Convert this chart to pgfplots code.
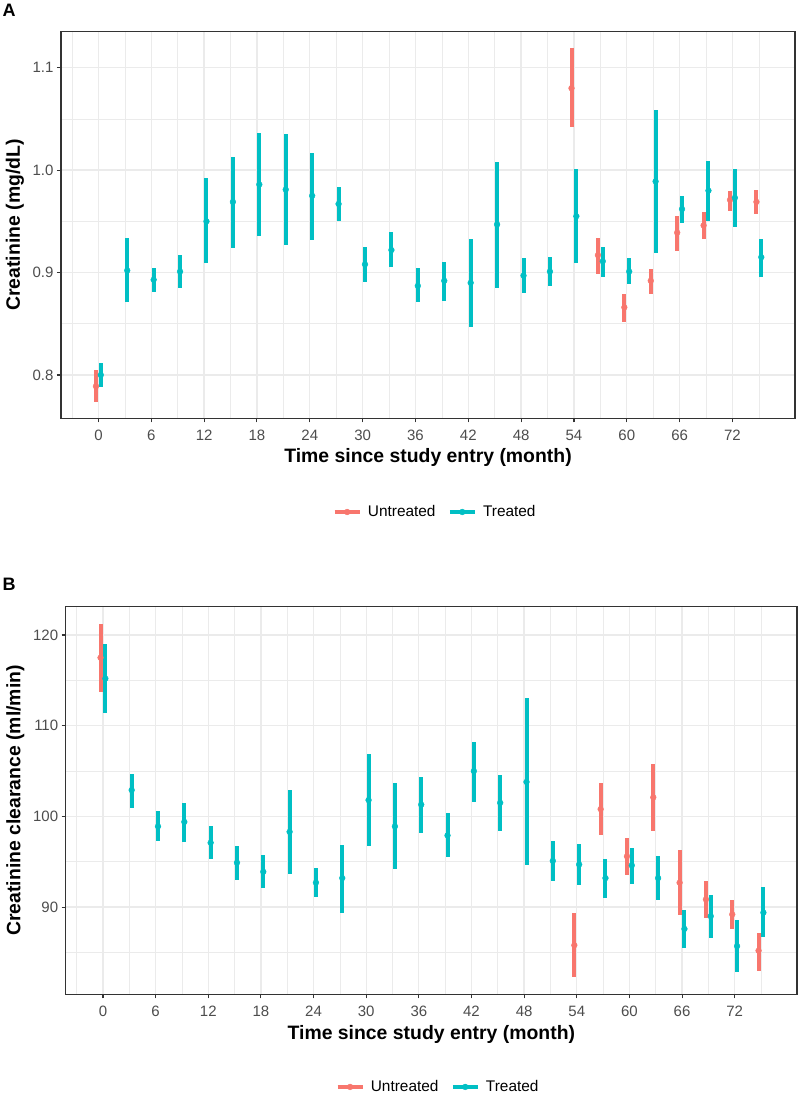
\documentclass[border=0pt]{standalone}
\usepackage{pgfplots}
\pgfplotsset{compat=1.18}
\usepackage{pgfplotstable}
\usepackage{fontspec}
\setmainfont{Liberation Sans}
\definecolor{cU}{HTML}{F8766D}
\definecolor{cT}{HTML}{00BFC4}
\definecolor{gridc}{HTML}{EBEBEB}
\definecolor{bordc}{HTML}{333333}
\definecolor{tickc}{HTML}{4D4D4D}

% Panel A: creatinine
\pgfplotstableread{
x y lo hi
0 0.789 0.774 0.805
54 1.080 1.042 1.119
57 0.917 0.899 0.934
60 0.866 0.852 0.879
63 0.892 0.879 0.903
66 0.939 0.921 0.955
69 0.946 0.933 0.959
72 0.971 0.960 0.980
75 0.969 0.957 0.981
}\dAU
\pgfplotstableread{
x y lo hi
0 0.800 0.788 0.812
3 0.902 0.871 0.934
6 0.893 0.881 0.904
9 0.901 0.885 0.917
12 0.950 0.909 0.992
15 0.969 0.924 1.013
18 0.986 0.936 1.036
21 0.981 0.927 1.035
24 0.975 0.932 1.017
27 0.967 0.950 0.984
30 0.908 0.891 0.925
33 0.922 0.905 0.940
36 0.887 0.871 0.904
39 0.892 0.872 0.910
42 0.890 0.847 0.933
45 0.947 0.885 1.008
48 0.897 0.880 0.914
51 0.901 0.887 0.915
54 0.955 0.909 1.001
57 0.911 0.896 0.925
60 0.901 0.889 0.914
63 0.989 0.919 1.059
66 0.962 0.948 0.975
69 0.980 0.950 1.009
72 0.973 0.944 1.001
75 0.915 0.896 0.933
}\dAT
% Panel B: creatinine clearance
\pgfplotstableread{
x y lo hi
0 117.5 113.75 121.2
54 85.8 82.3 89.4
57 100.8 97.9 103.7
60 95.6 93.5 97.6
63 102.1 98.4 105.8
66 92.7 89.1 96.3
69 90.85 88.75 92.9
72 89.2 87.6 90.8
75 85.2 83.0 87.2
}\dBU
\pgfplotstableread{
x y lo hi
0 115.2 111.4 119.0
3 102.9 100.9 104.7
6 98.9 97.3 100.6
9 99.4 97.2 101.5
12 97.1 95.3 98.9
15 94.9 93.0 96.7
18 93.9 92.1 95.7
21 98.3 93.7 102.9
24 92.7 91.1 94.3
27 93.2 89.3 96.9
30 101.8 96.7 106.9
33 98.9 94.2 103.7
36 101.3 98.2 104.4
39 97.9 95.5 100.4
42 105.0 101.6 108.2
45 101.5 98.4 104.6
48 103.8 94.6 113.0
51 95.1 92.9 97.3
54 94.7 92.4 97.0
57 93.2 91.0 95.3
60 94.6 92.5 96.5
63 93.2 90.8 95.6
66 87.6 85.5 89.7
69 89.0 86.6 91.3
72 85.7 82.8 88.6
75 89.4 86.7 92.2
}\dBT

\pgfplotsset{
  panel/.style={
    scale only axis, anchor=south west,
    xmin=-4.25, xmax=79.1,
    xtick={0,6,...,72}, xticklabels={0,6,12,18,24,30,36,42,48,54,60,66,72},
    minor xtick={-3,3,9,...,75},
    grid=both,
    major grid style={gridc, line width=1.3pt},
    minor grid style={gridc, line width=0.65pt},
    axis line style={bordc, line width=1.1pt},
    tick align=outside, tick pos=left,
    major tick length=4pt, minor tick length=0pt,
    tick style={bordc, line width=1.1pt},
    tick label style={font=\fontsize{15}{18}\selectfont, text=tickc},
    xticklabel style={anchor=base, yshift=-18.4pt},
    label style={font=\fontsize{19.4}{22}\selectfont\bfseries},
    xlabel={Time since study entry (month)},
    xlabel style={at={(axis description cs:0.5,0)}, anchor=base, yshift=-44.7pt},
    legend columns=2,
    legend style={draw=none, fill=none, font=\fontsize{15.4}{18}\selectfont, anchor=center,
      /tikz/every odd column/.append style={column sep=4pt},
      /tikz/every even column/.append style={column sep=10pt}},
  },
  untr/.style={cU, only marks, mark=*, mark size=2.9pt, mark options={draw=none, fill=cU},
    legend image code/.code={\draw[line width=4.5pt, cU] (0pt,0pt) -- (25pt,0pt); \fill[cU] (12.5pt,0pt) circle (2.9pt);},
    error bars/.cd, y dir=both, y explicit, error mark=none, error bar style={line width=4pt, cU}},
  trt/.style={cT, only marks, mark=*, mark size=2.9pt, mark options={draw=none, fill=cT},
    legend image code/.code={\draw[line width=4.5pt, cT] (0pt,0pt) -- (25pt,0pt); \fill[cT] (12.5pt,0pt) circle (2.9pt);},
    error bars/.cd, y dir=both, y explicit, error mark=none, error bar style={line width=4pt, cT}},
}

\begin{document}
\begin{tikzpicture}
\fill[white] (0pt,0pt) rectangle (800pt,1095pt);
\path[use as bounding box] (0pt,0pt) rectangle (800pt,1095pt);

\node[anchor=base west, inner sep=0pt, font=\fontsize{18}{20}\selectfont\bfseries] at (2.5pt,1078.5pt) {A};
\node[anchor=base west, inner sep=0pt, font=\fontsize{18}{20}\selectfont\bfseries] at (2.5pt,504.5pt) {B};

\begin{axis}[panel, at={(61pt,676.7pt)}, width=734pt, height=386.6pt,
  ymin=0.7577, ymax=1.1352,
  ytick={0.8,0.9,1.0,1.1}, yticklabels={0.8,0.9,1.0,1.1},
  minor ytick={0.75,0.85,0.95,1.05},
  ylabel={Creatinine (mg/dL)},
  ylabel style={at={(axis description cs:-0.0627,0.5)}, anchor=center},
  legend style={at={(0.5095,-0.2424)}}]
\addplot[untr] table[x expr=\thisrow{x}-0.28, y=y, y error plus expr=\thisrow{hi}-\thisrow{y}, y error minus expr=\thisrow{y}-\thisrow{lo}] {\dAU};
\addlegendentry{Untreated}
\addplot[trt] table[x expr=\thisrow{x}+0.27, y=y, y error plus expr=\thisrow{hi}-\thisrow{y}, y error minus expr=\thisrow{y}-\thisrow{lo}] {\dAT};
\addlegendentry{Treated}
\end{axis}

\begin{axis}[panel, at={(65.7pt,100.7pt)}, width=731.3pt, height=387.6pt,
  ymin=80.39, ymax=123.12,
  ytick={90,100,110,120}, yticklabels={90,100,110,120},
  minor ytick={85,95,105,115},
  ylabel={Creatinine clearance (ml/min)},
  ylabel style={at={(axis description cs:-0.069,0.5)}, anchor=center},
  legend style={at={(0.509,-0.239)}}]
\addplot[untr] table[x expr=\thisrow{x}-0.28, y=y, y error plus expr=\thisrow{hi}-\thisrow{y}, y error minus expr=\thisrow{y}-\thisrow{lo}] {\dBU};
\addlegendentry{Untreated}
\addplot[trt] table[x expr=\thisrow{x}+0.27, y=y, y error plus expr=\thisrow{hi}-\thisrow{y}, y error minus expr=\thisrow{y}-\thisrow{lo}] {\dBT};
\addlegendentry{Treated}
\end{axis}
\end{tikzpicture}
\end{document}
